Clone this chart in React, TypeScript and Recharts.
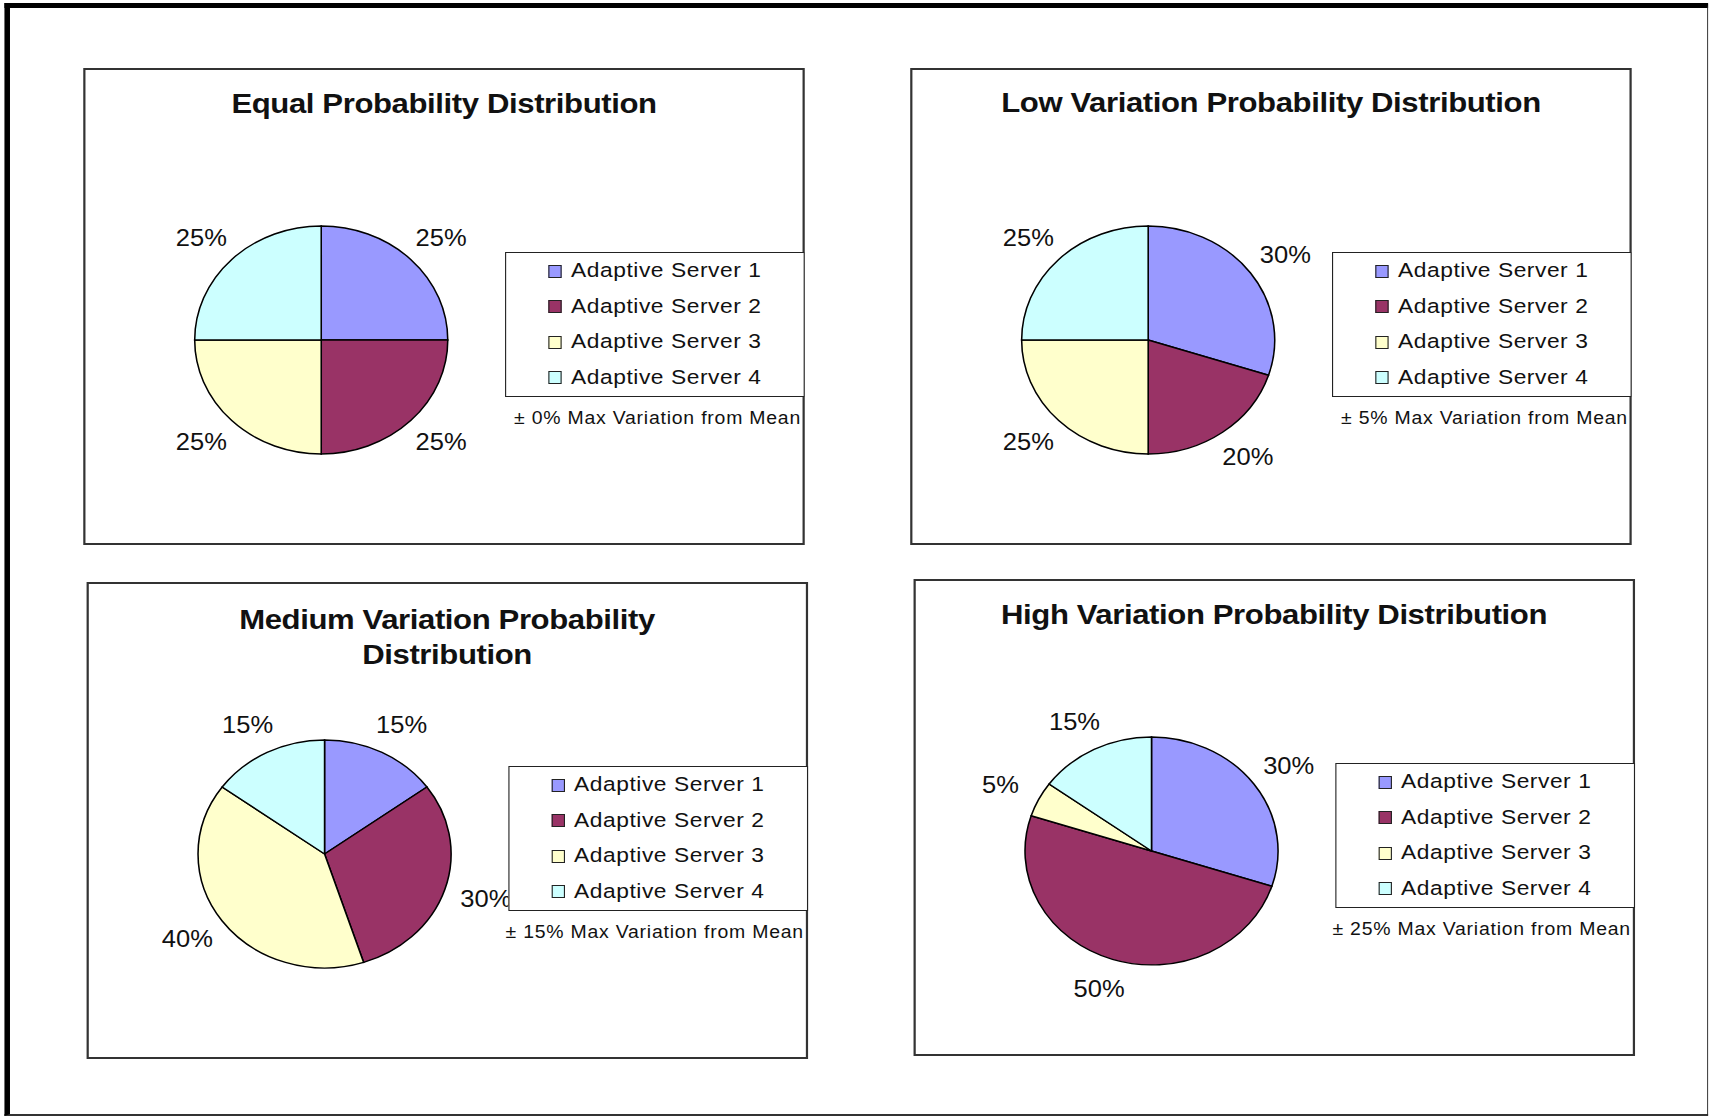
import React from "react";
import { PieChart, Pie, Cell, Legend } from "recharts";

// series shared by all four panels
const servers = ["Adaptive Server 1", "Adaptive Server 2", "Adaptive Server 3", "Adaptive Server 4"];
const serverColors = ["#9999FF", "#993366", "#FFFFCC", "#CCFFFF"];

// share of requests (%) per server
const equalShare = [25, 25, 25, 25];
const lowShare = [30, 20, 25, 25];
const mediumShare = [15, 30, 40, 15];
const highShare = [30, 50, 5, 15];

const panelTitles = [
  ["Equal Probability Distribution"],
  ["Low Variation Probability Distribution"],
  ["Medium Variation Probability", "Distribution"],
  ["High Variation Probability Distribution"],
];
const variationNotes = [
  "± 0% Max Variation from Mean",
  "± 5% Max Variation from Mean",
  "± 15% Max Variation from Mean",
  "± 25% Max Variation from Mean",
];

// the original picture is stretched horizontally, so everything is laid out
// narrower and scaled on x at the end
const STRETCH = 1.11;
const PANEL_W = 650.5;
const PANEL_H = 477;
const FONT = '"Liberation Sans", Arial, Helvetica, sans-serif';
const panelSpots = [
  { left: 74.8, top: 68, titleTop: 18 },
  { left: 819.8, top: 68, titleTop: 17 },
  { left: 77.5, top: 582, titleTop: 20 },
  { left: 822.5, top: 579, titleTop: 18 },
];
const LEGEND_LEFT = 380.2;
const LEGEND_TOP = 184;
const LEGEND_W = PANEL_W - LEGEND_LEFT;
const LEGEND_H = 145;
const ROW_H = 35.5;

const RAD = Math.PI / 180;

const renderPct = (props: any) => {
  const { cx, cy, midAngle, outerRadius, value } = props;
  const x = cx + outerRadius * 1.34 * Math.cos(-midAngle * RAD);
  const y = cy + outerRadius * 1.27 * Math.sin(-midAngle * RAD);
  return (
    <text
      x={x}
      y={y}
      textAnchor="middle"
      dominantBaseline="central"
      fontSize={23}
      fontFamily={FONT}
      fill="#111"
    >
      {value}%
    </text>
  );
};

const LegendBox = ({ note }: { note: string }) => (
  <div style={{ position: "relative", width: LEGEND_W, height: 180, fontFamily: FONT, color: "#111" }}>
    <div
      style={{
        position: "absolute",
        left: 0,
        top: 0,
        width: LEGEND_W,
        height: LEGEND_H,
        border: "1.5px solid #222",
        boxSizing: "border-box",
        background: "#fff",
      }}
    >
      {servers.map((name, i) => (
        <div
          key={name}
          style={{
            position: "absolute",
            left: 0,
            top: 0.75 + i * ROW_H - 1.5,
            height: ROW_H,
            lineHeight: `${ROW_H}px`,
            paddingLeft: 58.5,
            fontSize: 20.5,
            letterSpacing: 0.5,
            whiteSpace: "nowrap",
          }}
        >
          <span
            style={{
              position: "absolute",
              left: 38.5,
              top: (ROW_H - 13) / 2 + 1,
              width: 11.7,
              height: 13,
              background: serverColors[i],
              border: "1.2px solid #222",
              boxSizing: "border-box",
            }}
          />
          {name}
        </div>
      ))}
    </div>
    <div
      style={{
        position: "absolute",
        top: 156,
        right: 3.7,
        fontSize: 17.5,
        letterSpacing: 0.7,
        lineHeight: "20px",
        whiteSpace: "nowrap",
      }}
    >
      {note}
    </div>
  </div>
);

const DistributionPanel = ({ idx, shares }: { idx: number; shares: number[] }) => {
  const data = servers.map((name, i) => ({ name, value: shares[i] }));
  const spot = panelSpots[idx];
  return (
    <div style={{ position: "absolute", left: spot.left, top: spot.top, width: PANEL_W, height: PANEL_H }}>
      <div
        style={{
          position: "absolute",
          left: 0,
          top: 0,
          width: PANEL_W,
          height: PANEL_H,
          border: "2px solid #333",
          boxSizing: "border-box",
          background: "#fff",
        }}
      />
      <div
        style={{
          position: "absolute",
          left: 0,
          top: spot.titleTop,
          width: PANEL_W,
          textAlign: "center",
          fontFamily: FONT,
          fontWeight: "bold",
          fontSize: 28,
          letterSpacing: -0.35,
          lineHeight: "35px",
          color: "#111",
        }}
      >
        {panelTitles[idx].map((line) => (
          <div key={line}>{line}</div>
        ))}
      </div>
      <div style={{ position: "absolute", left: 0, top: 0 }}>
        <PieChart width={PANEL_W} height={PANEL_H} margin={{ top: 0, right: 0, bottom: 0, left: 0 }}>
          <Pie
            data={data}
            dataKey="value"
            nameKey="name"
            cx={214.4}
            cy={272}
            outerRadius={114}
            startAngle={90}
            endAngle={-270}
            stroke="#000"
            strokeWidth={1.4}
            label={renderPct}
            labelLine={false}
            isAnimationActive={false}
          >
            {data.map((d, i) => (
              <Cell key={d.name} fill={serverColors[i]} />
            ))}
          </Pie>
          <Legend
            layout="vertical"
            align="right"
            verticalAlign="middle"
            wrapperStyle={{ left: LEGEND_LEFT, top: LEGEND_TOP, width: LEGEND_W, height: 180 }}
            content={() => <LegendBox note={variationNotes[idx]} />}
          />
        </PieChart>
      </div>
    </div>
  );
};

export default function App() {
  const allShares = [equalShare, lowShare, mediumShare, highShare];
  return (
    <>
      <style>{"html,body{margin:0;padding:0;overflow:hidden;background:#fff}"}</style>
      <div
        style={{
          position: "absolute",
          left: 0,
          top: 0,
          width: 1539,
          height: 1116,
          background: "#fff",
          transform: `scaleX(${STRETCH})`,
          transformOrigin: "0 0",
          overflow: "hidden",
        }}
      >
        <div
          style={{
            position: "absolute",
            left: 3.6,
            top: 3,
            width: 1535,
            height: 1113,
            borderTop: "5px solid #000",
            borderLeft: "5.4px solid #000",
            borderRight: "1.8px solid #222",
            borderBottom: "2.5px solid #333",
            boxSizing: "border-box",
          }}
        />
        {allShares.map((shares, i) => (
          <DistributionPanel key={i} idx={i} shares={shares} />
        ))}
      </div>
    </>
  );
}
